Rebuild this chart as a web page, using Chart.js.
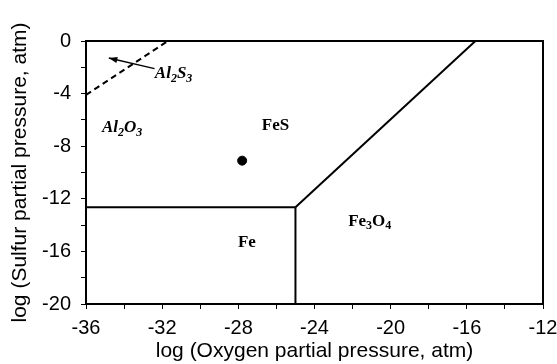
<!DOCTYPE html>
<html>
<head>
<meta charset="utf-8">
<script src="https://cdn.jsdelivr.net/npm/chart.js@4/dist/chart.umd.min.js"></script>
<style>
  html, body { margin: 0; padding: 0; background: #fff; }
  #wrap { width: 557px; height: 364px; }
</style>
</head>
<body>
<div id="wrap"><canvas id="phaseCanvas"></canvas></div>
<script>
// phase boundaries, log pO2 (x) vs log pS2 (y)
const al2s3Boundary = [{ x: -36, y: -4.1 }, { x: -31.7, y: 0 }];
const feFesBoundary = [{ x: -36, y: -12.65 }, { x: -25, y: -12.65 }];
const feFe3o4Boundary = [{ x: -25, y: -12.65 }, { x: -25, y: -20 }];
const fesFe3o4Boundary = [{ x: -25, y: -12.65 }, { x: -15.55, y: 0 }];
const experimentPoint = [{ x: -27.8, y: -9.1 }];

const xTicks = [-36, -32, -28, -24, -20, -16, -12];
const yTicks = [0, -4, -8, -12, -16, -20];

// region labels: [text, subscript] pieces
const regionLabels = [
  { at: { x: -34.1, y: -6.6 }, italic: true, parts: [["Al", 0], ["2", 1], ["O", 0], ["3", 1]] },
  { at: { x: -26.05, y: -6.4 }, italic: false, parts: [["FeS", 0]] },
  { at: { x: -27.55, y: -15.3 }, italic: false, parts: [["Fe", 0]] },
  { at: { x: -21.1, y: -13.7 }, italic: false, parts: [["Fe", 0], ["3", 1], ["O", 0], ["4", 1]] },
  { at: { x: -31.4, y: -2.5 }, italic: true, parts: [["Al", 0], ["2", 1], ["S", 0], ["3", 1]] },
];
const arrowFrom = { x: -32.4, y: -2.1 };
const arrowTo = { x: -34.8, y: -1.3 };

const annotatePlugin = {
  id: "phase_annotations",
  afterDatasetsDraw: (chart) => {
    const { ctx, chartArea: { left, top, width, height }, scales: { x, y } } = chart;
    ctx.save();
    ctx.strokeStyle = "#000";
    ctx.lineWidth = 2;
    ctx.strokeRect(left, top, width, height);

    ctx.fillStyle = "#000";
    ctx.textBaseline = "middle";
    regionLabels.forEach((lab) => {
      const style = (lab.italic ? "italic " : "") + "bold ";
      let total = 0;
      lab.parts.forEach(([t, sub]) => {
        ctx.font = style + (sub ? "12px" : "17px") + " 'Liberation Serif', serif";
        total += ctx.measureText(t).width;
      });
      let px = x.getPixelForValue(lab.at.x) - total / 2;
      const py = y.getPixelForValue(lab.at.y);
      lab.parts.forEach(([t, sub]) => {
        ctx.font = style + (sub ? "12px" : "17px") + " 'Liberation Serif', serif";
        ctx.fillText(t, px, sub ? py + 5 : py);
        px += ctx.measureText(t).width;
      });
    });

    // arrow to the Al2S3 field
    const x0 = x.getPixelForValue(arrowFrom.x), y0 = y.getPixelForValue(arrowFrom.y);
    const x1 = x.getPixelForValue(arrowTo.x), y1 = y.getPixelForValue(arrowTo.y);
    ctx.lineWidth = 1.5;
    ctx.beginPath();
    ctx.moveTo(x0, y0);
    ctx.lineTo(x1, y1);
    ctx.stroke();
    const ang = Math.atan2(y1 - y0, x1 - x0);
    ctx.beginPath();
    ctx.moveTo(x1, y1);
    ctx.lineTo(x1 - 9 * Math.cos(ang - 0.35), y1 - 9 * Math.sin(ang - 0.35));
    ctx.lineTo(x1 - 9 * Math.cos(ang + 0.35), y1 - 9 * Math.sin(ang + 0.35));
    ctx.closePath();
    ctx.fill();
    ctx.restore();
  },
};

const lineSet = (pts, dash) => ({
  data: pts,
  showLine: true,
  borderColor: "#000",
  borderWidth: 2,
  borderDash: dash || [],
  pointRadius: 0,
  fill: false,
});

const tickFont = { family: "'Liberation Sans', Arial", size: 20 };
const titleFont = { family: "'Liberation Sans', Arial", size: 21 };

const config = {
  type: "scatter",
  data: {
    datasets: [
      lineSet(al2s3Boundary, [6, 4]),
      lineSet(feFesBoundary),
      lineSet(feFe3o4Boundary),
      lineSet(fesFe3o4Boundary),
      {
        data: experimentPoint,
        pointRadius: 4.5,
        backgroundColor: "#000",
        borderColor: "#000",
      },
    ],
  },
  options: {
    responsive: true,
    maintainAspectRatio: false,
    animation: false,
    layout: { padding: { top: 41, right: 14, left: 0, bottom: 0 } },
    plugins: { legend: { display: false }, tooltip: { enabled: false } },
    scales: {
      x: {
        min: -36,
        max: -12,
        afterFit: (s) => {
          s.height = 60;
          s.paddingLeft = 0;
          s.paddingRight = 0;
        },
        ticks: {
          stepSize: 2,
          autoSkip: false,
          maxRotation: 0,
          color: "#000",
          font: tickFont,
          padding: 7,
          callback: (v) => (xTicks.includes(v) ? v : ""),
        },
        grid: { display: true, drawOnChartArea: false, color: "#000", tickLength: 5 },
        border: { color: "#000", width: 2 },
        title: {
          display: true,
          text: "log (Oxygen partial pressure, atm)",
          color: "#000",
          font: titleFont,
          padding: { top: 0, bottom: 0 },
        },
      },
      y: {
        min: -20,
        max: 0,
        afterFit: (s) => {
          s.width = 86;
          s.paddingTop = 0;
          s.paddingBottom = 0;
        },
        ticks: {
          stepSize: 2,
          autoSkip: false,
          color: "#000",
          font: tickFont,
          padding: 10,
          callback: (v) => (yTicks.includes(v) ? v : ""),
        },
        grid: { display: true, drawOnChartArea: false, color: "#000", tickLength: 5 },
        border: { color: "#000", width: 2 },
        title: {
          display: true,
          text: "log (Sulfur partial pressure, atm)",
          color: "#000",
          font: titleFont,
          padding: { top: 8, bottom: 0 },
        },
      },
    },
  },
  plugins: [annotatePlugin],
};

const canvas = document.getElementById("phaseCanvas");
new Chart(canvas.getContext("2d"), config);
</script>
</body>
</html>
